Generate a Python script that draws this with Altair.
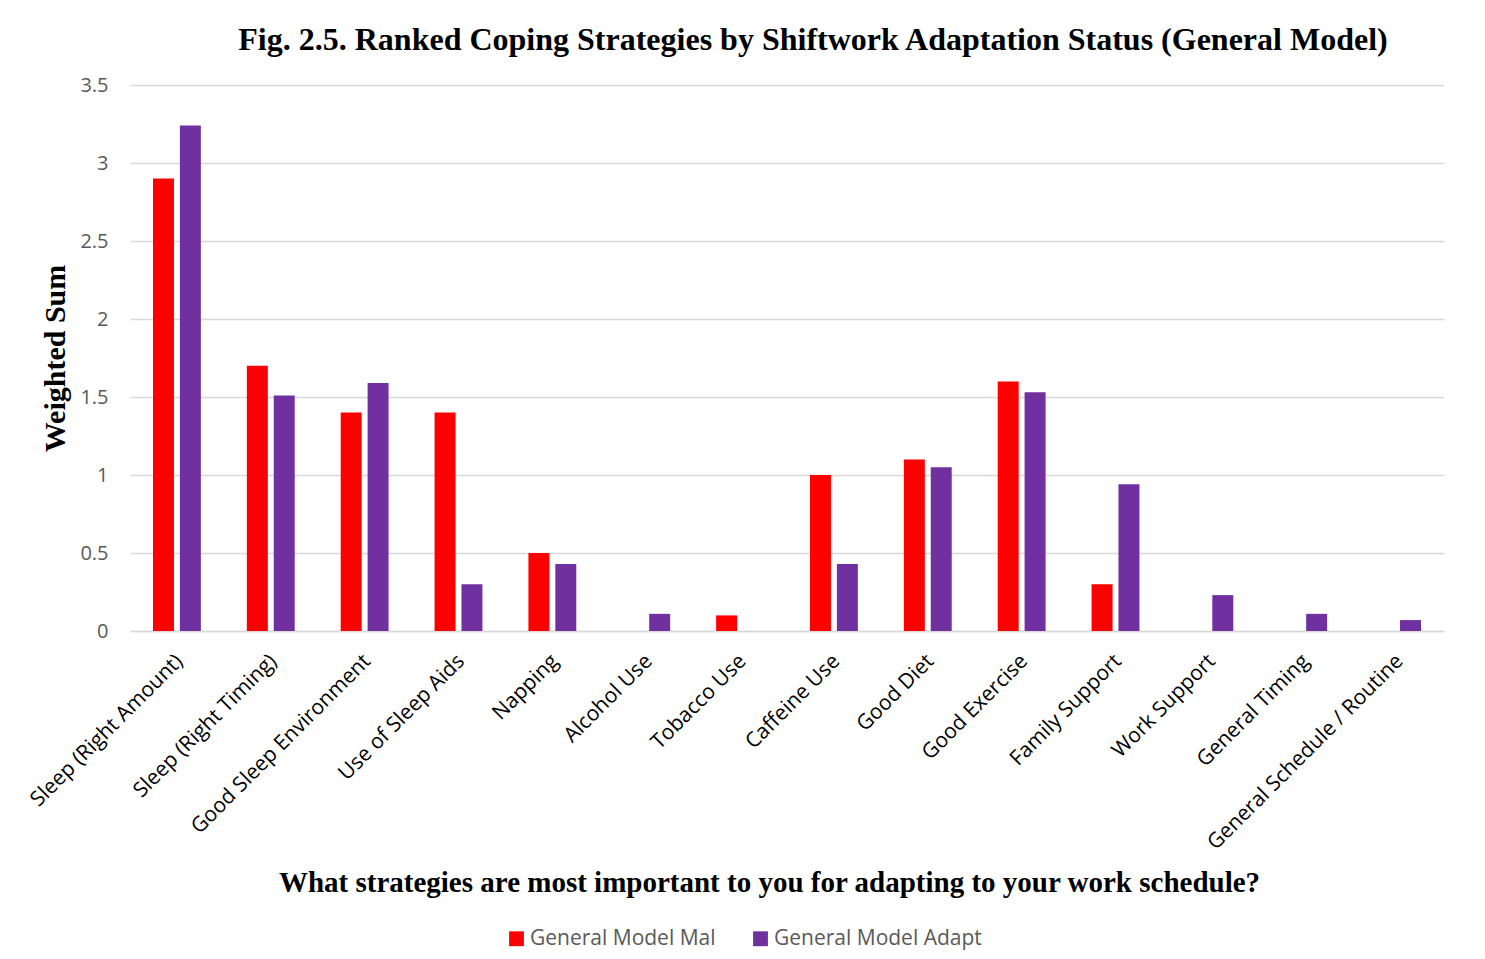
import altair as alt
import pandas as pd

categories = [
    "Sleep (Right Amount)", "Sleep (Right Timing)", "Good Sleep Environment",
    "Use of Sleep Aids", "Napping", "Alcohol Use", "Tobacco Use", "Caffeine Use",
    "Good Diet", "Good Exercise", "Family Support", "Work Support",
    "General Timing", "General Schedule / Routine",
]
mal = [2.9, 1.7, 1.4, 1.4, 0.5, 0.0, 0.1, 1.0, 1.1, 1.6, 0.3, 0.0, 0.0, 0.0]
adapt = [3.24, 1.51, 1.59, 0.3, 0.43, 0.11, 0.0, 0.43, 1.05, 1.53, 0.94, 0.23, 0.11, 0.07]
series = ["General Model Mal", "General Model Adapt"]
colors = ["#FF0000", "#7030A0"]

rows = []
for i, c in enumerate(categories):
    rows.append({"Strategy": c, "Series": series[0], "Value": mal[i]})
    rows.append({"Strategy": c, "Series": series[1], "Value": adapt[i]})
df = pd.DataFrame(rows)

chart = alt.Chart(df).mark_bar().encode(
    x=alt.X("Strategy:N", sort=categories,
            scale=alt.Scale(paddingInner=0.49, paddingOuter=0.245),
            axis=alt.Axis(
                title="What strategies are most important to you for adapting to your work schedule?",
                labelAngle=-45, labelFont="Open Sans", labelFontSize=21,
                labelColor="#000000", labelPadding=19, labelOffset=-5,
                labelOverlap=False, labelLimit=400,
                ticks=False, domain=True, domainColor="#D9D9D9", domainWidth=1.5,
                titleFont="Liberation Serif", titleFontSize=29, titleFontWeight="bold",
                titleColor="#000000", titleX=639, titleY=251, titleBaseline="middle",
                titleAnchor="middle")),
    xOffset=alt.XOffset("Series:N", sort=series,
                        scale=alt.Scale(paddingInner=0.22)),
    y=alt.Y("Value:Q", scale=alt.Scale(domain=[0, 3.5]),
            axis=alt.Axis(
                title="Weighted Sum", values=[0, 0.5, 1, 1.5, 2, 2.5, 3, 3.5],
                format="~g",
                labelFont="Open Sans", labelFontSize=20, labelColor="#595959",
                labelPadding=22, ticks=False, domain=False,
                gridColor="#D9D9D9", gridWidth=1.5,
                titleFont="Liberation Serif", titleFontSize=30, titleFontWeight="bold",
                titleColor="#000000", titleX=-75, titleY=273, titleAngle=-90,
                titleBaseline="middle", titleAnchor="middle")),
    color=alt.Color("Series:N", sort=series,
                    scale=alt.Scale(domain=series, range=colors),
                    legend=alt.Legend(
                        title=None, orient="none", direction="horizontal",
                        legendX=376, legendY=843, symbolType="square",
                        symbolSize=220, symbolStrokeWidth=0,
                        labelFont="Open Sans", labelFontSize=21, labelLimit=400,
                        labelColor="#595959", columnPadding=34, labelOffset=3)),
).properties(
    width=1314, height=546,
    background="white",
    title=alt.Title(
        "Fig. 2.5. Ranked Coping Strategies by Shiftwork Adaptation Status (General Model)",
        font="Liberation Serif", fontSize=32, fontWeight="bold", color="#000000",
        anchor="middle", dx=26, offset=18),
    autosize=alt.AutoSizeParams(type="none"),
    padding={"left": 130, "top": 85, "right": 41, "bottom": 328},
).configure_view(stroke=None)

chart.save("out.html", embed_options={"renderer": "svg", "actions": False})
